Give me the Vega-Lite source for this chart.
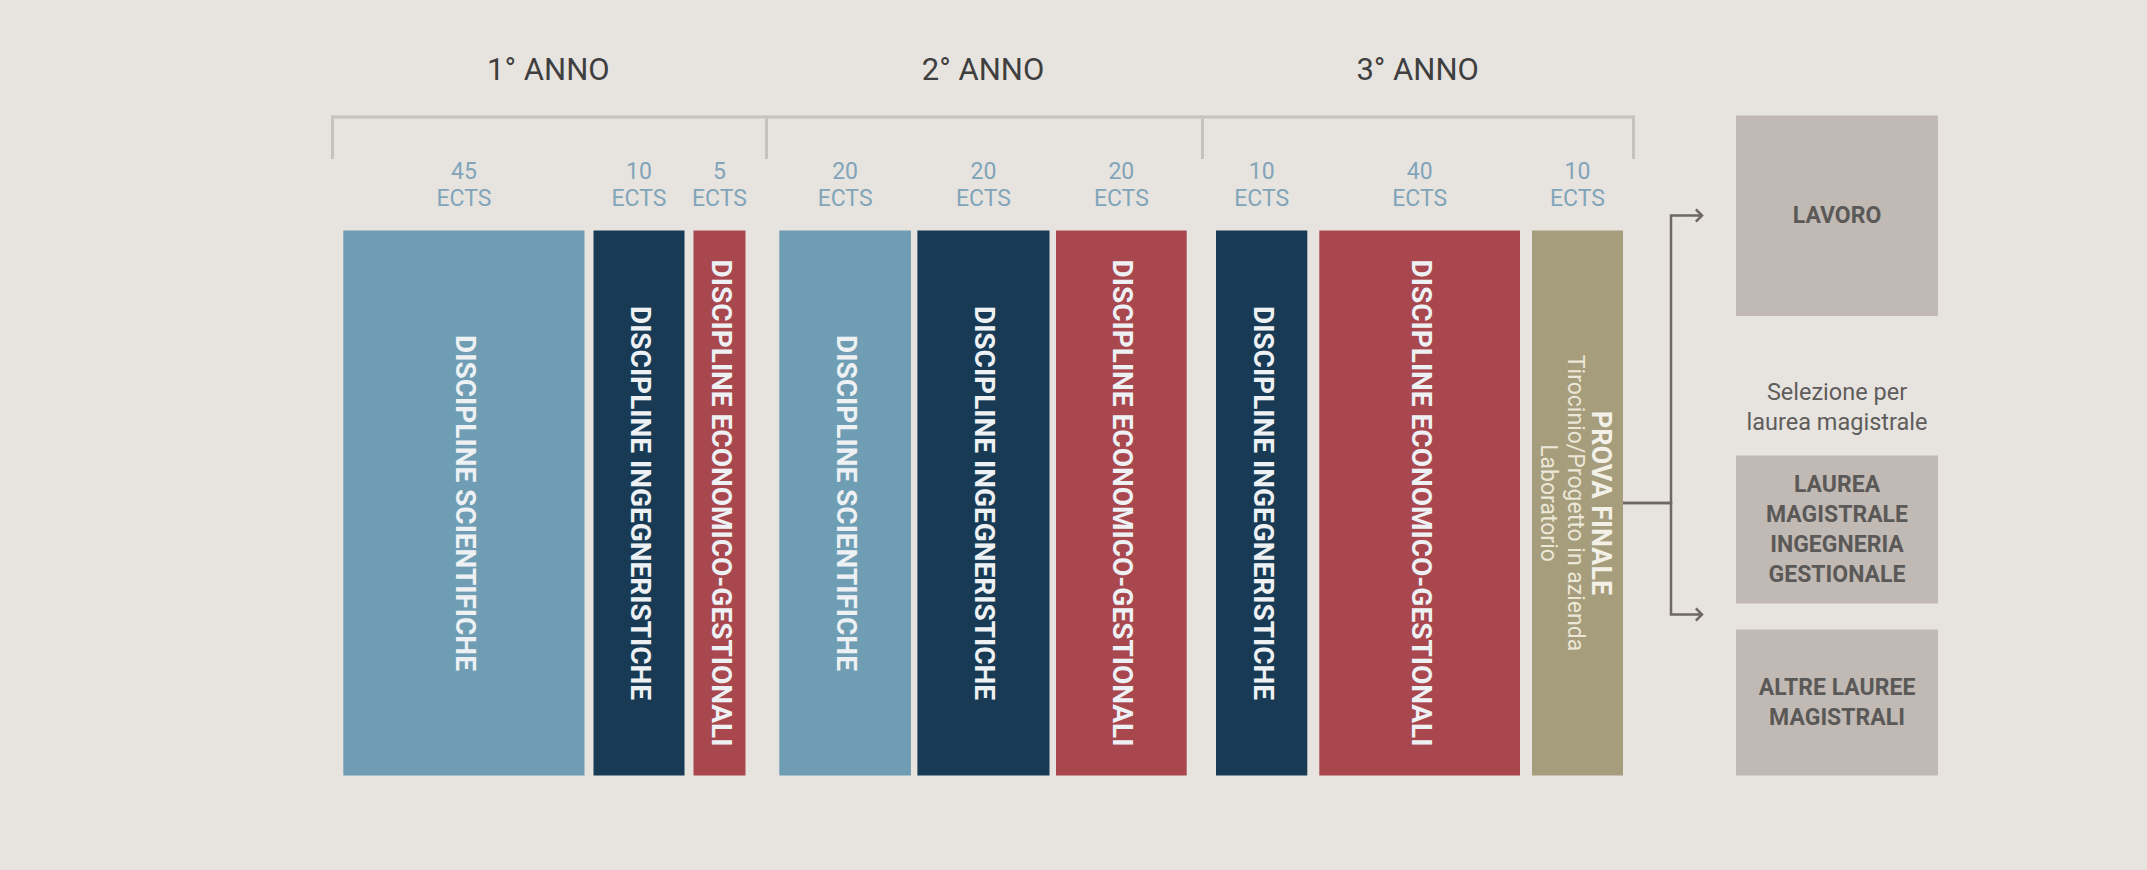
{
  "$schema": "https://vega.github.io/schema/vega-lite/v6.json",
  "background": "#e7e4e0",
  "padding": {"left": 331, "top": 53, "right": 209, "bottom": 97},
  "autosize": {"type": "pad"},
  "spacing": 24.5,
  "config": {"view": {"stroke": null}, "text": {"font": "Roboto"}},
  "datasets": {
    "corsi": [
      {"anno": "1° ANNO", "ordine": 1, "area": "DISCIPLINE SCIENTIFICHE", "ects": 45},
      {"anno": "1° ANNO", "ordine": 2, "area": "DISCIPLINE INGEGNERISTICHE", "ects": 10},
      {"anno": "1° ANNO", "ordine": 3, "area": "DISCIPLINE ECONOMICO-GESTIONALI", "ects": 5},
      {"anno": "2° ANNO", "ordine": 1, "area": "DISCIPLINE SCIENTIFICHE", "ects": 20},
      {"anno": "2° ANNO", "ordine": 2, "area": "DISCIPLINE INGEGNERISTICHE", "ects": 20},
      {"anno": "2° ANNO", "ordine": 3, "area": "DISCIPLINE ECONOMICO-GESTIONALI", "ects": 20},
      {"anno": "3° ANNO", "ordine": 1, "area": "DISCIPLINE INGEGNERISTICHE", "ects": 10},
      {"anno": "3° ANNO", "ordine": 2, "area": "DISCIPLINE ECONOMICO-GESTIONALI", "ects": 40},
      {"anno": "3° ANNO", "ordine": 3, "area": "PROVA FINALE", "ects": 10, "nota": "Tirocinio/Progetto in azienda\nLaboratorio"}
    ],
    "esiti": [
      {"ordine": 1, "esito": "LAVORO"},
      {"ordine": 2, "esito": "LAUREA\nMAGISTRALE\nINGEGNERIA\nGESTIONALE"},
      {"ordine": 3, "esito": "ALTRE LAUREE\nMAGISTRALI"}
    ],
    "note": [{"testo": "Selezione per\nlaurea magistrale"}],
    "percorsi": [
      {"sbocco": "LAVORO", "tappa": 0, "livello": 1},
      {"sbocco": "LAVORO", "tappa": 1, "livello": 0},
      {"sbocco": "LAVORO", "tappa": 2, "livello": 0},
      {"sbocco": "LAUREA MAGISTRALE", "tappa": 0, "livello": 1},
      {"sbocco": "LAUREA MAGISTRALE", "tappa": 1, "livello": 2},
      {"sbocco": "LAUREA MAGISTRALE", "tappa": 2, "livello": 2}
    ]
  },
  "vconcat": [
    {
      "width": 1304, "height": 36,
      "data": {"name": "corsi"},
      "transform": [{"aggregate": [{"op": "sum", "field": "ects", "as": "tot"}], "groupby": ["anno"]}],
      "mark": {"type": "text", "font": "Roboto", "fontSize": 31, "color": "#3f3f3f"},
      "encoding": {
        "x": {"field": "anno", "type": "nominal", "scale": {"type": "band", "paddingInner": 0, "paddingOuter": 0}, "axis": null},
        "text": {"field": "anno", "type": "nominal"}
      }
    },
    {
      "spacing": 29,
      "hconcat": [
        {
          "spacing": 0,
          "hconcat": [
            {
              "spacing": 0, "bounds": "flush",
              "vconcat": [
                {
                  "width": 434, "height": 3, "view": {"fill": "#c6c2be", "stroke": null},
                  "data": {"name": "corsi"},
                  "transform": [{"filter": "datum.anno === '1° ANNO'"}, {"aggregate": [{"op": "sum", "field": "ects", "as": "tot"}], "groupby": ["anno"]}],
                  "mark": {"type": "rule", "color": "#c6c2be", "strokeWidth": 3, "xOffset": 1.5},
                  "encoding": {"x": {"datum": 0, "type": "quantitative", "scale": {"domain": [0, 60], "nice": false, "zero": false}, "axis": null}}
                },
                {
                  "width": 434, "height": 40.5,
                  "data": {"name": "corsi"},
                  "transform": [{"filter": "datum.anno === '1° ANNO'"}, {"aggregate": [{"op": "sum", "field": "ects", "as": "tot"}], "groupby": ["anno"]}],
                  "mark": {"type": "rule", "color": "#c6c2be", "strokeWidth": 3, "xOffset": 1.5},
                  "encoding": {"x": {"datum": 0, "type": "quantitative", "scale": {"domain": [0, 60], "nice": false, "zero": false}, "axis": null}}
                },
                {
                  "width": 434, "height": 71,
                  "data": {"name": "corsi"},
                  "transform": [{"filter": "datum.anno === '1° ANNO'"}, {"stack": "ects", "groupby": ["anno"], "sort": [{"field": "ordine", "order": "ascending"}], "as": ["da", "a"]}, {"fold": ["da", "a"], "as": ["estremo", "v"]}],
                  "encoding": {"x": {"aggregate": "mean", "field": "v", "type": "quantitative", "scale": {"domain": [0, 45, 55, 60], "range": [12.3, 262.5, 362.5, 423.5], "nice": false, "zero": false}, "axis": null}, "detail": {"field": "area", "type": "nominal"}},
                  "layer": [
                    {"mark": {"type": "text", "font": "Roboto", "fontSize": 23, "color": "#82a4b9", "dy": -23, "xOffset": -4.5}, "encoding": {"text": {"field": "ects", "type": "quantitative"}}},
                    {"mark": {"type": "text", "font": "Roboto", "fontSize": 23, "color": "#82a4b9", "dy": 3.5, "xOffset": -4.5, "text": "ECTS"}}
                  ]
                },
                {
                  "width": 434, "height": 545,
                  "data": {"name": "corsi"},
                  "transform": [{"filter": "datum.anno === '1° ANNO'"}, {"stack": "ects", "groupby": ["anno"], "sort": [{"field": "ordine", "order": "ascending"}], "as": ["da", "a"]}],
                  "layer": [
                    {"mark": {"type": "rect", "x2Offset": -9}, "encoding": {"x": {"field": "da", "type": "quantitative", "scale": {"domain": [0, 45, 55, 60], "range": [12.3, 262.5, 362.5, 423.5], "nice": false, "zero": false}, "axis": null}, "x2": {"field": "a"}, "color": {"field": "area", "type": "nominal", "scale": {"domain": ["DISCIPLINE SCIENTIFICHE", "DISCIPLINE INGEGNERISTICHE", "DISCIPLINE ECONOMICO-GESTIONALI", "PROVA FINALE"], "range": ["#6f9db3", "#183a55", "#a9474f", "#a59d7c"]}, "legend": null}}},
                    {"transform": [{"fold": ["da", "a"], "as": ["estremo", "v"]}], "mark": {"type": "text", "angle": 90, "font": "Roboto", "fontWeight": "bold", "fontSize": 28, "color": "#edf1f3", "xOffset": -4.5}, "encoding": {"x": {"aggregate": "mean", "field": "v", "type": "quantitative", "scale": {"domain": [0, 45, 55, 60], "range": [12.3, 262.5, 362.5, 423.5], "nice": false, "zero": false}, "axis": null}, "text": {"field": "area", "type": "nominal"}}}
                  ]
                }
              ]
            },
            {
              "spacing": 0, "bounds": "flush",
              "vconcat": [
                {
                  "width": 436, "height": 3, "view": {"fill": "#c6c2be", "stroke": null},
                  "data": {"name": "corsi"},
                  "transform": [{"filter": "datum.anno === '2° ANNO'"}, {"aggregate": [{"op": "sum", "field": "ects", "as": "tot"}], "groupby": ["anno"]}],
                  "mark": {"type": "rule", "color": "#c6c2be", "strokeWidth": 3, "xOffset": 1.5},
                  "encoding": {"x": {"datum": 0, "type": "quantitative", "scale": {"domain": [0, 60], "nice": false, "zero": false}, "axis": null}}
                },
                {
                  "width": 436, "height": 40.5,
                  "data": {"name": "corsi"},
                  "transform": [{"filter": "datum.anno === '2° ANNO'"}, {"aggregate": [{"op": "sum", "field": "ects", "as": "tot"}], "groupby": ["anno"]}],
                  "mark": {"type": "rule", "color": "#c6c2be", "strokeWidth": 3, "xOffset": 1.5},
                  "encoding": {"x": {"datum": 0, "type": "quantitative", "scale": {"domain": [0, 60], "nice": false, "zero": false}, "axis": null}}
                },
                {
                  "width": 436, "height": 71,
                  "data": {"name": "corsi"},
                  "transform": [{"filter": "datum.anno === '2° ANNO'"}, {"stack": "ects", "groupby": ["anno"], "sort": [{"field": "ordine", "order": "ascending"}], "as": ["da", "a"]}, {"fold": ["da", "a"], "as": ["estremo", "v"]}],
                  "encoding": {"x": {"aggregate": "mean", "field": "v", "type": "quantitative", "scale": {"domain": [0, 20, 40, 60], "range": [14.3, 152.4, 291, 428.2], "nice": false, "zero": false}, "axis": null}, "detail": {"field": "area", "type": "nominal"}},
                  "layer": [
                    {"mark": {"type": "text", "font": "Roboto", "fontSize": 23, "color": "#82a4b9", "dy": -23, "xOffset": -3.25}, "encoding": {"text": {"field": "ects", "type": "quantitative"}}},
                    {"mark": {"type": "text", "font": "Roboto", "fontSize": 23, "color": "#82a4b9", "dy": 3.5, "xOffset": -3.25, "text": "ECTS"}}
                  ]
                },
                {
                  "width": 436, "height": 545,
                  "data": {"name": "corsi"},
                  "transform": [{"filter": "datum.anno === '2° ANNO'"}, {"stack": "ects", "groupby": ["anno"], "sort": [{"field": "ordine", "order": "ascending"}], "as": ["da", "a"]}],
                  "layer": [
                    {"mark": {"type": "rect", "x2Offset": -6.5}, "encoding": {"x": {"field": "da", "type": "quantitative", "scale": {"domain": [0, 20, 40, 60], "range": [14.3, 152.4, 291, 428.2], "nice": false, "zero": false}, "axis": null}, "x2": {"field": "a"}, "color": {"field": "area", "type": "nominal", "scale": {"domain": ["DISCIPLINE SCIENTIFICHE", "DISCIPLINE INGEGNERISTICHE", "DISCIPLINE ECONOMICO-GESTIONALI", "PROVA FINALE"], "range": ["#6f9db3", "#183a55", "#a9474f", "#a59d7c"]}, "legend": null}}},
                    {"transform": [{"fold": ["da", "a"], "as": ["estremo", "v"]}], "mark": {"type": "text", "angle": 90, "font": "Roboto", "fontWeight": "bold", "fontSize": 28, "color": "#edf1f3", "xOffset": -3.25}, "encoding": {"x": {"aggregate": "mean", "field": "v", "type": "quantitative", "scale": {"domain": [0, 20, 40, 60], "range": [14.3, 152.4, 291, 428.2], "nice": false, "zero": false}, "axis": null}, "text": {"field": "area", "type": "nominal"}}}
                  ]
                }
              ]
            },
            {
              "spacing": 0, "bounds": "flush",
              "vconcat": [
                {
                  "width": 434, "height": 3, "view": {"fill": "#c6c2be", "stroke": null},
                  "data": {"name": "corsi"},
                  "transform": [{"filter": "datum.anno === '3° ANNO'"}, {"aggregate": [{"op": "sum", "field": "ects", "as": "tot"}], "groupby": ["anno"]}],
                  "layer": [
                    {"mark": {"type": "rule", "color": "#c6c2be", "strokeWidth": 3, "xOffset": 1.5}, "encoding": {"x": {"datum": 0, "type": "quantitative", "scale": {"domain": [0, 60], "nice": false, "zero": false}, "axis": null}}},
                    {"mark": {"type": "rule", "color": "#c6c2be", "strokeWidth": 3, "xOffset": -1.5}, "encoding": {"x": {"field": "tot", "type": "quantitative", "scale": {"domain": [0, 60], "nice": false, "zero": false}, "axis": null}}}
                  ]
                },
                {
                  "width": 434, "height": 40.5,
                  "data": {"name": "corsi"},
                  "transform": [{"filter": "datum.anno === '3° ANNO'"}, {"aggregate": [{"op": "sum", "field": "ects", "as": "tot"}], "groupby": ["anno"]}],
                  "layer": [
                    {"mark": {"type": "rule", "color": "#c6c2be", "strokeWidth": 3, "xOffset": 1.5}, "encoding": {"x": {"datum": 0, "type": "quantitative", "scale": {"domain": [0, 60], "nice": false, "zero": false}, "axis": null}}},
                    {"mark": {"type": "rule", "color": "#c6c2be", "strokeWidth": 3, "xOffset": -1.5}, "encoding": {"x": {"field": "tot", "type": "quantitative", "scale": {"domain": [0, 60], "nice": false, "zero": false}, "axis": null}}}
                  ]
                },
                {
                  "width": 434, "height": 71,
                  "data": {"name": "corsi"},
                  "transform": [{"filter": "datum.anno === '3° ANNO'"}, {"stack": "ects", "groupby": ["anno"], "sort": [{"field": "ordine", "order": "ascending"}], "as": ["da", "a"]}, {"fold": ["da", "a"], "as": ["estremo", "v"]}],
                  "encoding": {"x": {"aggregate": "mean", "field": "v", "type": "quantitative", "scale": {"domain": [0, 10, 50, 60], "range": [15, 118.3, 331, 434], "nice": false, "zero": false}, "axis": null}, "detail": {"field": "area", "type": "nominal"}},
                  "layer": [
                    {"mark": {"type": "text", "font": "Roboto", "fontSize": 23, "color": "#82a4b9", "dy": -23, "xOffset": -6}, "encoding": {"text": {"field": "ects", "type": "quantitative"}}},
                    {"mark": {"type": "text", "font": "Roboto", "fontSize": 23, "color": "#82a4b9", "dy": 3.5, "xOffset": -6, "text": "ECTS"}}
                  ]
                },
                {
                  "width": 434, "height": 545,
                  "data": {"name": "corsi"},
                  "transform": [{"filter": "datum.anno === '3° ANNO'"}, {"stack": "ects", "groupby": ["anno"], "sort": [{"field": "ordine", "order": "ascending"}], "as": ["da", "a"]}],
                  "resolve": {"scale": {"x": "independent", "y": "independent"}},
                  "layer": [
                    {"mark": {"type": "rect", "x2Offset": -12}, "encoding": {"x": {"field": "da", "type": "quantitative", "scale": {"domain": [0, 10, 50, 60], "range": [15, 118.3, 331, 434], "nice": false, "zero": false}, "axis": null}, "x2": {"field": "a"}, "color": {"field": "area", "type": "nominal", "scale": {"domain": ["DISCIPLINE SCIENTIFICHE", "DISCIPLINE INGEGNERISTICHE", "DISCIPLINE ECONOMICO-GESTIONALI", "PROVA FINALE"], "range": ["#6f9db3", "#183a55", "#a9474f", "#a59d7c"]}, "legend": null}}},
                    {"transform": [{"filter": "datum.area !== 'PROVA FINALE'"}, {"fold": ["da", "a"], "as": ["estremo", "v"]}], "mark": {"type": "text", "angle": 90, "font": "Roboto", "fontWeight": "bold", "fontSize": 28, "color": "#edf1f3", "xOffset": -6}, "encoding": {"x": {"aggregate": "mean", "field": "v", "type": "quantitative", "scale": {"domain": [0, 10, 50, 60], "range": [15, 118.3, 331, 434], "nice": false, "zero": false}, "axis": null}, "text": {"field": "area", "type": "nominal"}}},
                    {"transform": [{"filter": "datum.area === 'PROVA FINALE'"}, {"fold": ["da", "a"], "as": ["estremo", "v"]}], "mark": {"type": "text", "angle": 90, "font": "Roboto", "fontWeight": "bold", "fontSize": 27, "color": "#f3f0e8", "xOffset": 16.5}, "encoding": {"x": {"aggregate": "mean", "field": "v", "type": "quantitative", "scale": {"domain": [0, 10, 50, 60], "range": [15, 118.3, 331, 434], "nice": false, "zero": false}, "axis": null}, "text": {"field": "area", "type": "nominal"}}},
                    {"transform": [{"filter": "datum.area === 'PROVA FINALE'"}, {"fold": ["da", "a"], "as": ["estremo", "v"]}], "mark": {"type": "text", "angle": 90, "font": "Roboto", "fontSize": 23, "color": "#ece7d6", "xOffset": -9, "lineBreak": "\n", "lineHeight": 27}, "encoding": {"x": {"aggregate": "mean", "field": "v", "type": "quantitative", "scale": {"domain": [0, 10, 50, 60], "range": [15, 118.3, 331, 434], "nice": false, "zero": false}, "axis": null}, "text": {"field": "nota", "type": "nominal"}}},
                    {
                      "data": {"name": "percorsi"},
                      "encoding": {
                        "x": {"field": "tappa", "type": "quantitative", "scale": {"domain": [0, 1, 2], "range": [422, 470, 501], "nice": false, "zero": false}, "axis": null},
                        "y": {"field": "livello", "type": "quantitative", "scale": {"domain": [0, 1, 2], "range": [-15, 272.5, 384], "nice": false, "zero": false}, "axis": null}
                      },
                      "layer": [
                        {"mark": {"type": "line", "interpolate": "step-after", "color": "#6e6763", "strokeWidth": 2.5}, "encoding": {"detail": {"field": "sbocco", "type": "nominal"}}},
                        {"transform": [{"filter": "datum.tappa === 2"}], "mark": {"type": "point", "shape": "M-1,-1L0,0L-1,1", "filled": false, "size": 150, "color": "#6e6763", "strokeWidth": 2.5, "opacity": 1}}
                      ]
                    }
                  ]
                }
              ]
            }
          ]
        },
        {
          "spacing": 26, "bounds": "flush",
          "vconcat": [
            {"width": 202, "height": 200.5, "view": {"fill": "#c1bab4", "stroke": null}, "data": {"name": "esiti"}, "transform": [{"filter": "datum.ordine === 1"}], "mark": {"type": "text", "font": "Roboto", "fontWeight": "bold", "fontSize": 23, "color": "#5b5957", "lineBreak": "\n", "lineHeight": 30}, "encoding": {"text": {"field": "esito", "type": "nominal"}}},
            {"width": 202, "height": 87, "data": {"name": "note"}, "mark": {"type": "text", "font": "Roboto", "fontSize": 23.5, "color": "#5f5d5b", "lineBreak": "\n", "lineHeight": 30, "dy": 6.5}, "encoding": {"text": {"field": "testo", "type": "nominal"}}},
            {"width": 202, "height": 148, "view": {"fill": "#c1bab4", "stroke": null}, "data": {"name": "esiti"}, "transform": [{"filter": "datum.ordine === 2"}], "mark": {"type": "text", "font": "Roboto", "fontWeight": "bold", "fontSize": 23, "color": "#5b5957", "lineBreak": "\n", "lineHeight": 30, "dy": -45}, "encoding": {"text": {"field": "esito", "type": "nominal"}}},
            {"width": 202, "height": 146, "view": {"fill": "#c1bab4", "stroke": null}, "data": {"name": "esiti"}, "transform": [{"filter": "datum.ordine === 3"}], "mark": {"type": "text", "font": "Roboto", "fontWeight": "bold", "fontSize": 23, "color": "#5b5957", "lineBreak": "\n", "lineHeight": 30, "dy": -15}, "encoding": {"text": {"field": "esito", "type": "nominal"}}}
          ]
        }
      ]
    }
  ]
}
